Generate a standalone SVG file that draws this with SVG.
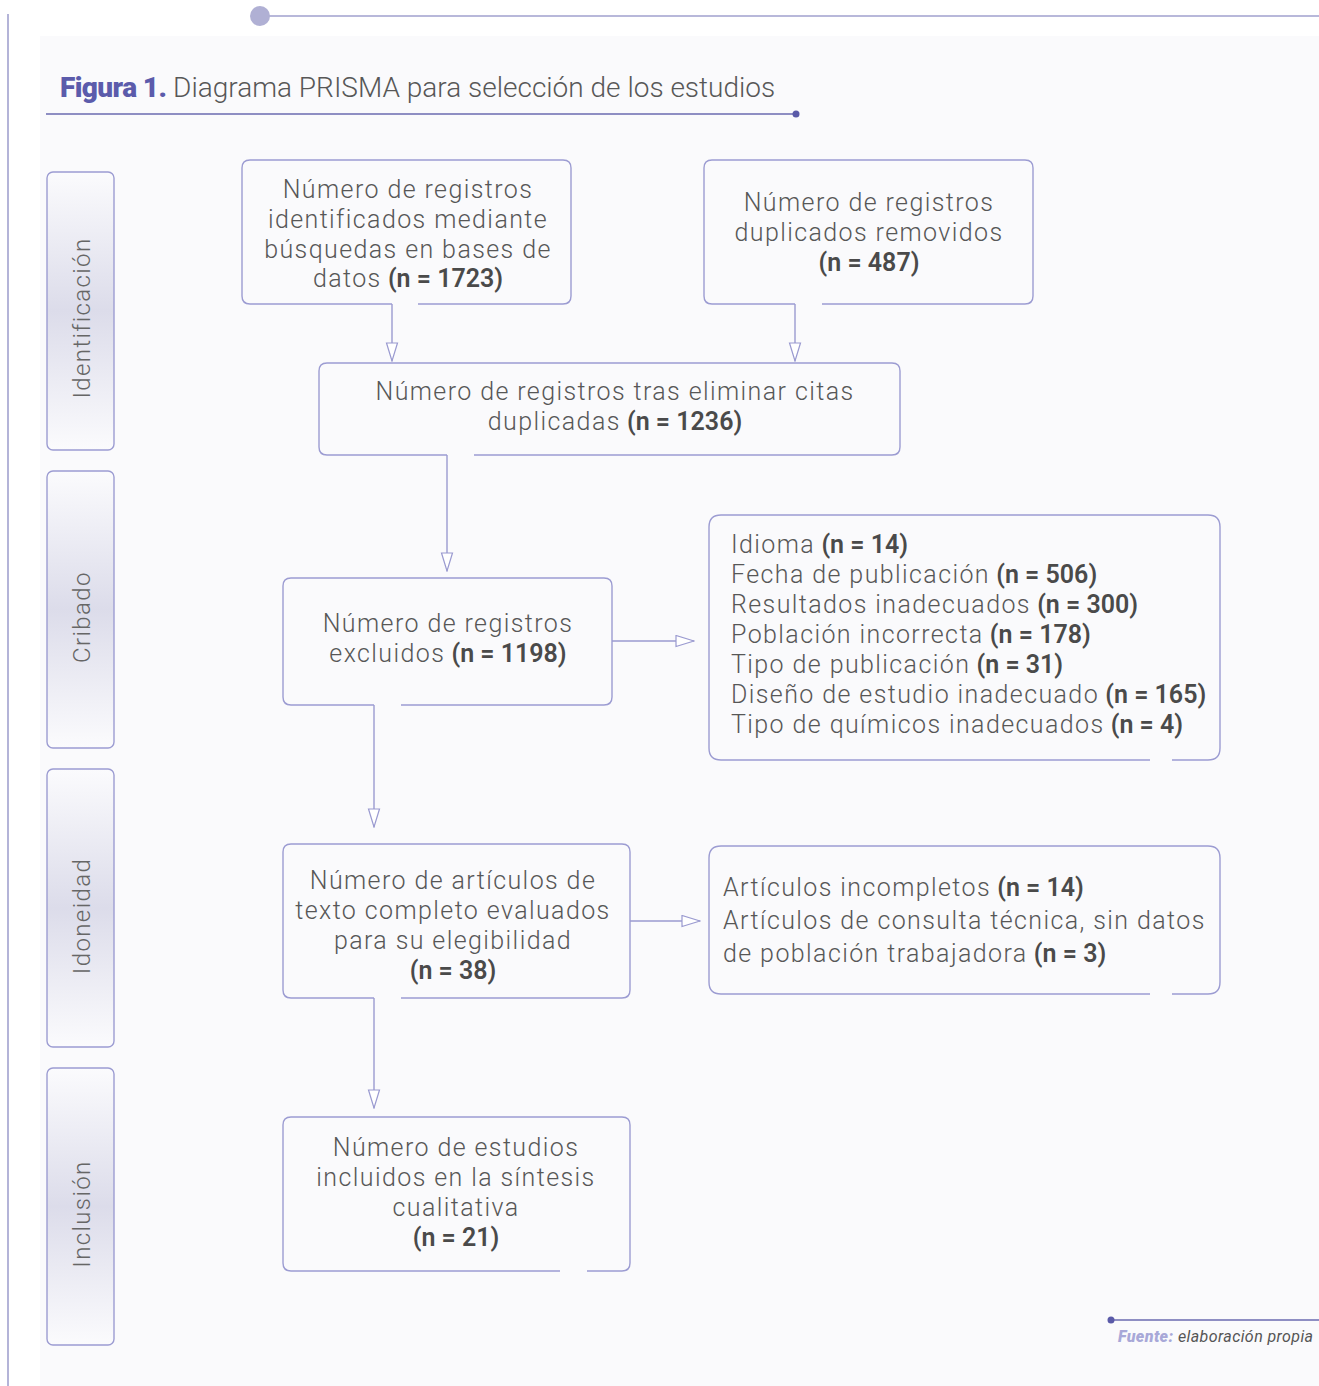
<svg xmlns="http://www.w3.org/2000/svg" width="1319" height="1386" viewBox="0 0 1319 1386">
<defs>
<linearGradient id="side" x1="0" y1="0" x2="0" y2="1">
<stop offset="0" stop-color="#fbfbfd"/>
<stop offset="0.5" stop-color="#dcdcea"/>
<stop offset="1" stop-color="#fbfbfd"/>
</linearGradient>
<marker id="arr" markerUnits="userSpaceOnUse" markerWidth="20" markerHeight="14" refX="19" refY="6.5" orient="auto" viewBox="0 0 20 14">
<path d="M1,1 L19,6.5 L1,12 Z" fill="#ffffff" stroke="#9a9ad0" stroke-width="1.2"/>
</marker>
<style>
.box{fill:none;stroke:#9c9cd2;stroke-width:1.4}
.side{fill:url(#side);stroke:#9c9cd2;stroke-width:1.4}
.t{font-family:Roboto,"Liberation Sans",sans-serif;font-weight:300;font-size:25px;fill:#575757;letter-spacing:1.4px}
.c{text-anchor:middle}
.b{font-weight:600;fill:#4a4a4a;letter-spacing:0}
.sl{font-family:Roboto,"Liberation Sans",sans-serif;font-weight:300;font-size:24px;fill:#666;text-anchor:middle;letter-spacing:1.4px}
.con{stroke:#9a9ad0;stroke-width:1.4;fill:none}
</style>
</defs>
<rect x="0" y="0" width="1319" height="1386" fill="#ffffff"/>
<rect x="40" y="36" width="1279" height="1350" fill="#fafafc"/>
<line x1="8" y1="14" x2="8" y2="1386" stroke="#b4b4d8" stroke-width="2"/>
<line x1="260" y1="16" x2="1319" y2="16" stroke="#b8b8da" stroke-width="2"/>
<circle cx="260" cy="16" r="10" fill="#b0b0d4"/>
<g id="title">
<text x="60" y="97" font-family="Roboto,'Liberation Sans',sans-serif" font-size="28" fill="#575757"><tspan font-weight="900" fill="#5b5bab" letter-spacing="-0.6">Figura 1.</tspan><tspan font-weight="300"> Diagrama PRISMA para selección de los estudios</tspan></text>
<line x1="46" y1="114" x2="796" y2="114" stroke="#6a6ab0" stroke-width="1.5"/>
<circle cx="796" cy="114" r="3.5" fill="#5a5aa8"/>
</g>
<g id="phase-identificacion"><rect class="side" x="47" y="172" width="67" height="278" rx="6"/><text class="sl" transform="translate(90,318) rotate(-90)">Identificación</text></g>
<g id="phase-cribado"><rect class="side" x="47" y="471" width="67" height="277" rx="6"/><text class="sl" transform="translate(90,617) rotate(-90)">Cribado</text></g>
<g id="phase-idoneidad"><rect class="side" x="47" y="769" width="67" height="278" rx="6"/><text class="sl" transform="translate(90,916) rotate(-90)">Idoneidad</text></g>
<g id="phase-inclusion"><rect class="side" x="47" y="1068" width="67" height="277" rx="6"/><text class="sl" transform="translate(90,1214) rotate(-90)">Inclusión</text></g>

<g id="connectors">
<line class="con" x1="392" y1="304" x2="392" y2="361" marker-end="url(#arr)"/>
<line class="con" x1="795" y1="304" x2="795" y2="361" marker-end="url(#arr)"/>
<line class="con" x1="447" y1="455" x2="447" y2="571" marker-end="url(#arr)"/>
<line class="con" x1="612" y1="641" x2="694" y2="641" marker-end="url(#arr)"/>
<line class="con" x1="374" y1="705" x2="374" y2="827" marker-end="url(#arr)"/>
<line class="con" x1="630" y1="921" x2="700" y2="921" marker-end="url(#arr)"/>
<line class="con" x1="374" y1="998" x2="374" y2="1108" marker-end="url(#arr)"/>
</g>

<g id="n1">
<path class="box" d="M418,304 H563 Q571,304 571,296 V168 Q571,160 563,160 H250 Q242,160 242,168 V296 Q242,304 250,304 H392"/>
<text class="t c" x="408" y="198">Número de registros</text>
<text class="t c" x="408" y="228">identificados mediante</text>
<text class="t c" x="408" y="258">búsquedas en bases de</text>
<text class="t c" x="408" y="287">datos<tspan class="b"> (n = 1723)</tspan></text>
</g>
<g id="n2">
<path class="box" d="M822,304 H1025 Q1033,304 1033,296 V168 Q1033,160 1025,160 H712 Q704,160 704,168 V296 Q704,304 712,304 H795"/>
<text class="t c" x="869" y="211">Número de registros</text>
<text class="t c" x="869" y="241">duplicados removidos</text>
<text class="t c" x="869" y="271"><tspan class="b">(n = 487)</tspan></text>
</g>
<g id="n3">
<path class="box" d="M474,455 H892 Q900,455 900,447 V371 Q900,363 892,363 H327 Q319,363 319,371 V447 Q319,455 327,455 H447"/>
<text class="t c" x="615" y="400">Número de registros tras eliminar citas</text>
<text class="t c" x="615" y="430">duplicadas<tspan class="b"> (n = 1236)</tspan></text>
</g>
<g id="n4">
<path class="box" d="M401,705 H604 Q612,705 612,697 V586 Q612,578 604,578 H291 Q283,578 283,586 V697 Q283,705 291,705 H374"/>
<text class="t c" x="448" y="632">Número de registros</text>
<text class="t c" x="448" y="662">excluidos<tspan class="b"> (n = 1198)</tspan></text>
</g>
<g id="n5">
<path class="box" d="M1172,760 H1208 Q1220,760 1220,748 V527 Q1220,515 1208,515 H721 Q709,515 709,527 V748 Q709,760 721,760 H1150"/>
<text class="t" x="731" y="553">Idioma<tspan class="b"> (n = 14)</tspan></text>
<text class="t" x="731" y="583">Fecha de publicación<tspan class="b"> (n = 506)</tspan></text>
<text class="t" x="731" y="613">Resultados inadecuados<tspan class="b"> (n = 300)</tspan></text>
<text class="t" x="731" y="643">Población incorrecta<tspan class="b"> (n = 178)</tspan></text>
<text class="t" x="731" y="673">Tipo de publicación<tspan class="b"> (n = 31)</tspan></text>
<text class="t" x="731" y="703">Diseño de estudio inadecuado<tspan class="b"> (n = 165)</tspan></text>
<text class="t" x="731" y="733">Tipo de químicos inadecuados<tspan class="b"> (n = 4)</tspan></text>
</g>
<g id="n6">
<path class="box" d="M401,998 H622 Q630,998 630,990 V852 Q630,844 622,844 H291 Q283,844 283,852 V990 Q283,998 291,998 H374"/>
<text class="t c" x="453" y="889">Número de artículos de</text>
<text class="t c" x="453" y="919">texto completo evaluados</text>
<text class="t c" x="453" y="949">para su elegibilidad</text>
<text class="t c" x="453" y="979"><tspan class="b">(n = 38)</tspan></text>
</g>
<g id="n7">
<path class="box" d="M1172,994 H1208 Q1220,994 1220,982 V858 Q1220,846 1208,846 H721 Q709,846 709,858 V982 Q709,994 721,994 H1150"/>
<text class="t" x="723" y="896">Artículos incompletos<tspan class="b"> (n = 14)</tspan></text>
<text class="t" x="723" y="929">Artículos de consulta técnica, sin datos</text>
<text class="t" x="723" y="962">de población trabajadora<tspan class="b"> (n = 3)</tspan></text>
</g>
<g id="n8">
<path class="box" d="M587,1271 H622 Q630,1271 630,1263 V1125 Q630,1117 622,1117 H291 Q283,1117 283,1125 V1263 Q283,1271 291,1271 H560"/>
<text class="t c" x="456" y="1156">Número de estudios</text>
<text class="t c" x="456" y="1186">incluidos en la síntesis</text>
<text class="t c" x="456" y="1216">cualitativa</text>
<text class="t c" x="456" y="1246"><tspan class="b">(n = 21)</tspan></text>
</g>
<g id="source">
<line x1="1111" y1="1320" x2="1319" y2="1320" stroke="#6a6ab0" stroke-width="1.5"/>
<circle cx="1111" cy="1320" r="3.5" fill="#5a5aa8"/>
<text x="1118" y="1342" font-family="Roboto,'Liberation Sans',sans-serif" font-size="16" font-style="italic" fill="#555" letter-spacing="0.4"><tspan font-weight="900" fill="#a8a8d8">Fuente:</tspan> elaboración propia</text>
</g>
</svg>
